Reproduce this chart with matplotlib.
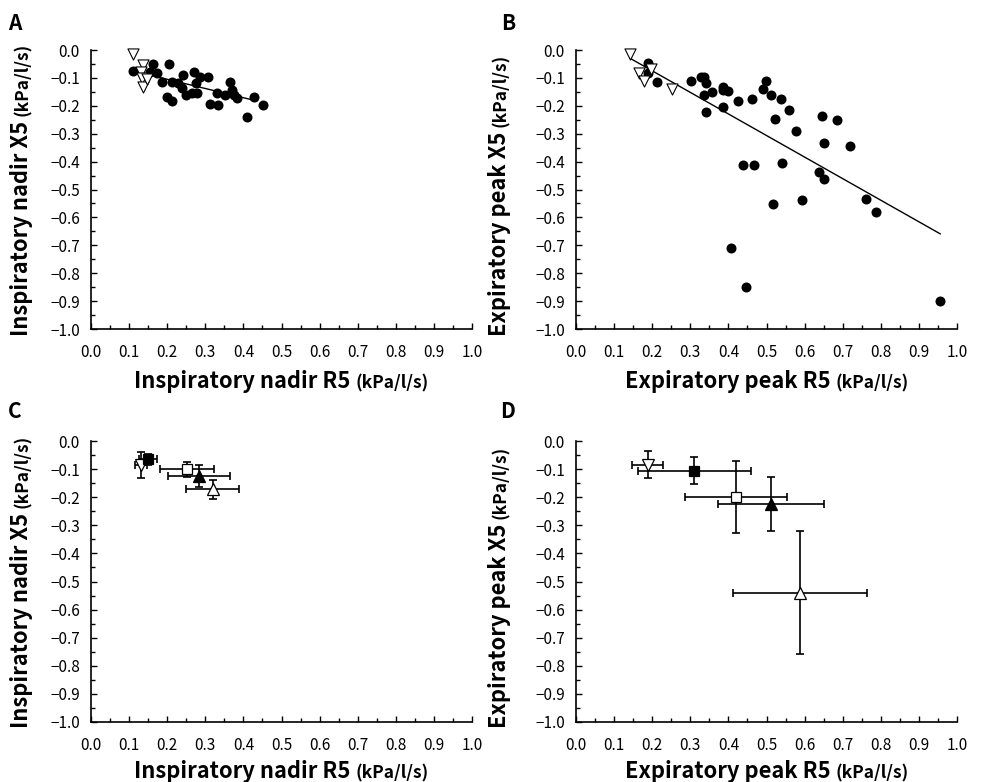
import matplotlib
matplotlib.use("Agg")
import matplotlib.pyplot as plt
import numpy as np

plt.rcParams['font.family'] = ['Noto Sans CJK JP', 'DejaVu Sans']

# ---------------- data ----------------
# Panel A: inspiratory nadir R5 vs X5
A_circ_x = [0.109, 0.162, 0.155, 0.172, 0.186, 0.206, 0.200, 0.212, 0.212, 0.229,
            0.241, 0.238, 0.249, 0.264, 0.270, 0.277, 0.276, 0.286, 0.308, 0.312,
            0.330, 0.334, 0.352, 0.365, 0.369, 0.375, 0.382, 0.410, 0.428, 0.451]
A_circ_y = [-0.074, -0.050, -0.078, -0.084, -0.114, -0.050, -0.170, -0.182, -0.115, -0.119,
            -0.090, -0.137, -0.161, -0.155, -0.078, -0.155, -0.119, -0.096, -0.096, -0.194,
            -0.155, -0.197, -0.161, -0.114, -0.143, -0.161, -0.173, -0.241, -0.170, -0.197]
A_tri_x = [0.109, 0.137, 0.130, 0.133, 0.137, 0.148]
A_tri_y = [-0.013, -0.052, -0.080, -0.102, -0.131, -0.105]
A_fit = (-0.039, -0.33)        # intercept, slope
A_fit_range = (0.124, 0.435)

# Panel B: expiratory peak R5 vs X5
B_circ_x = [0.190, 0.190, 0.212, 0.301, 0.329, 0.336, 0.341, 0.336, 0.341, 0.356,
            0.385, 0.387, 0.400, 0.385, 0.424, 0.408, 0.439, 0.447, 0.463, 0.466,
            0.490, 0.499, 0.513, 0.518, 0.523, 0.538, 0.540, 0.560, 0.578, 0.593,
            0.637, 0.645, 0.650, 0.652, 0.685, 0.720, 0.761, 0.787, 0.956]
B_circ_y = [-0.048, -0.084, -0.113, -0.111, -0.096, -0.096, -0.119, -0.161, -0.221, -0.149,
            -0.131, -0.143, -0.147, -0.203, -0.182, -0.710, -0.412, -0.851, -0.177, -0.412,
            -0.141, -0.111, -0.161, -0.552, -0.247, -0.177, -0.404, -0.215, -0.290, -0.538,
            -0.436, -0.235, -0.464, -0.332, -0.251, -0.343, -0.535, -0.579, -0.900]
B_tri_x = [0.142, 0.165, 0.178, 0.197, 0.251]
B_tri_y = [-0.014, -0.082, -0.110, -0.067, -0.141]
B_fit = (0.080, -0.773)
B_fit_range = (0.142, 0.956)

# Panels C, D: group means +/- SD
groups = ['v_open', 's_filled', 's_open', '^_filled', '^_open']
C_x = [0.131, 0.149, 0.251, 0.284, 0.319]
C_y = [-0.085, -0.065, -0.101, -0.125, -0.172]
C_xerr = [0.015, 0.024, 0.071, 0.082, 0.070]
C_yerr = [0.046, 0.020, 0.028, 0.040, 0.033]

D_x = [0.188, 0.311, 0.420, 0.512, 0.588]
D_y = [-0.085, -0.106, -0.198, -0.224, -0.540]
D_xerr = [0.040, 0.148, 0.135, 0.140, 0.177]
D_yerr = [0.048, 0.048, 0.128, 0.097, 0.218]

ticks = np.round(np.arange(0, 1.01, 0.1), 1)
xtick_labels = [f"{t:.1f}" for t in ticks]
ytick_labels = [f"\u2212{t:.1f}" if t > 0 else "0.0" for t in ticks]

labels = {
    'A': ("Inspiratory nadir R5", "Inspiratory nadir X5"),
    'B': ("Expiratory peak R5", "Expiratory peak X5"),
    'C': ("Inspiratory nadir R5", "Inspiratory nadir X5"),
    'D': ("Expiratory peak R5", "Expiratory peak X5"),
}
unit = "(kPa/l/s)"

# ---------------- figure ----------------
W, H = 981, 782
fig = plt.figure(figsize=(W / 100, H / 100), dpi=100)

def px_axes(x0, y0, x1, y1):
    return fig.add_axes([x0 / W, 1 - y1 / H, (x1 - x0) / W, (y1 - y0) / H])

axA = px_axes(91, 50, 472, 329)
axB = px_axes(576, 50, 957, 329)
axC = px_axes(91, 441, 472, 722)
axD = px_axes(576, 441, 957, 722)
axes = {'A': axA, 'B': axB, 'C': axC, 'D': axD}

for ax in axes.values():
    ax.set_xlim(0, 1)
    ax.set_ylim(-1, 0)
    for s in ['top', 'right']:
        ax.spines[s].set_visible(False)
    for s in ['left', 'bottom']:
        ax.spines[s].set_linewidth(1.2)
    ax.set_xticks(ticks)
    ax.set_xticklabels(xtick_labels)
    ax.set_yticks(-ticks)
    ax.set_yticklabels(ytick_labels)
    ax.set_xticks(np.arange(0.05, 1.0, 0.1), minor=True)
    ax.set_yticks(-np.arange(0.05, 1.0, 0.1), minor=True)
    ax.tick_params(which='both', direction='in', width=1.0, labelsize=11)
    ax.tick_params(which='major', length=4)
    ax.tick_params(which='minor', length=3)
    ax.tick_params(axis='x', which='major', pad=11)
    ax.tick_params(axis='y', which='major', pad=8)

circ_kw = dict(s=52, c='black', marker='o', linewidths=0, clip_on=False, zorder=3)
tri_kw = dict(s=64, facecolors='white', edgecolors='black', marker='v', linewidths=0.8,
              clip_on=False, zorder=4)

# Panel A
axA.scatter(A_circ_x, A_circ_y, **circ_kw)
axA.scatter(A_tri_x, A_tri_y, **tri_kw)
xx = np.array(A_fit_range)
axA.plot(xx, A_fit[0] + A_fit[1] * xx, color='black', lw=1.0, zorder=2)

# Panel B
axB.scatter(B_circ_x, B_circ_y, **circ_kw)
axB.scatter(B_tri_x, B_tri_y, **tri_kw)
xx = np.array(B_fit_range)
axB.plot(xx, B_fit[0] + B_fit[1] * xx, color='black', lw=1.0, zorder=2)

# Panels C, D
style = {
    'v_open': dict(marker='v', mfc='white', ms=8),
    's_filled': dict(marker='s', mfc='black', ms=6.5),
    's_open': dict(marker='s', mfc='white', ms=6.5),
    '^_filled': dict(marker='^', mfc='black', ms=8),
    '^_open': dict(marker='^', mfc='white', ms=8),
}
for ax, X, Y, XE, YE in [(axC, C_x, C_y, C_xerr, C_yerr), (axD, D_x, D_y, D_xerr, D_yerr)]:
    for g, x, y, xe, ye in zip(groups, X, Y, XE, YE):
        ax.errorbar([x], [y], xerr=[xe], yerr=[ye], fmt='none', ecolor='black',
                    elinewidth=1.2, capsize=3, capthick=1.2, zorder=2)
        ax.plot([x], [y], linestyle='none', mec='black', mew=0.9, zorder=3, **style[g])

# ---------------- labels ----------------
MAIN_FS = 15.8
UNIT_FS = 12.5
GAP = 5

fig.canvas.draw()
renderer = fig.canvas.get_renderer()

def ext(t):
    return t.get_window_extent(renderer)

def x_label(ax, main, base_y):
    bb = ax.get_window_extent(renderer)
    cx = (bb.x0 + bb.x1) / 2
    t1 = fig.text(0, 0, main, fontsize=MAIN_FS, weight='bold', ha='left', va='baseline')
    t2 = fig.text(0, 0, unit, fontsize=UNIT_FS, weight='bold', ha='left', va='baseline')
    w1 = ext(t1).width
    w2 = ext(t2).width
    total = w1 + GAP + w2
    x0 = cx - total / 2
    yb = H - base_y
    t1.set_position((x0 / W, yb / H))
    t2.set_position(((x0 + w1 + GAP) / W, yb / H))

def y_label(main, base_x, start_y):
    t1 = fig.text(0, 0, main, fontsize=MAIN_FS, weight='bold', ha='left', va='baseline',
                  rotation=90, rotation_mode='anchor')
    t2 = fig.text(0, 0, unit, fontsize=UNIT_FS, weight='bold', ha='left', va='baseline',
                  rotation=90, rotation_mode='anchor')
    h1 = ext(t1).height
    y0 = H - start_y
    t1.set_position((base_x / W, y0 / H))
    t2.set_position((base_x / W, (y0 + h1 + GAP) / H))

x_label(axA, labels['A'][0], 388)
x_label(axB, labels['B'][0], 388)
x_label(axC, labels['C'][0], 778)
x_label(axD, labels['D'][0], 778)
y_label(labels['A'][1], 28, 336)
y_label(labels['B'][1], 506, 336)
y_label(labels['C'][1], 28, 728)
y_label(labels['D'][1], 506, 728)

for letter, (lx, ly) in zip('ABCD', [(15, 24), (508, 24), (15, 412), (508, 412)]):
    fig.text(lx / W, 1 - ly / H, letter, fontsize=15, weight='bold', ha='center', va='center')

fig.savefig("out.png", dpi=100)
